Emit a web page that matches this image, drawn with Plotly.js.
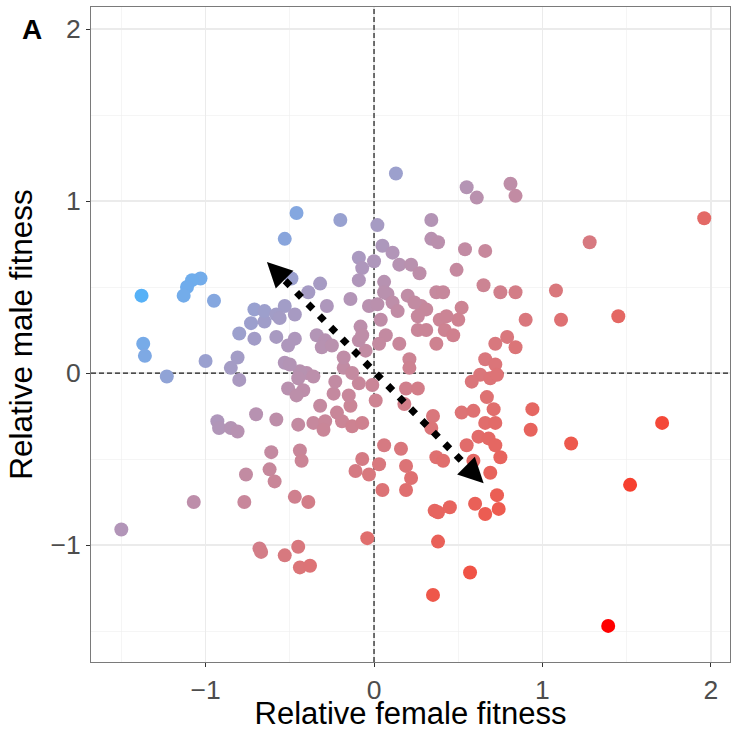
<!DOCTYPE html>
<html>
<head>
<meta charset="utf-8">
<script src="https://cdn.plot.ly/plotly-3.0.1.min.js"></script>
<style>
html,body{margin:0;padding:0;background:#fff;}
#chart{width:731px;height:731px;}
</style>
</head>
<body>
<div id="chart"></div>
<script>
// Relative female fitness (x) and relative male fitness (y), one pair per point
const femaleFitness = [
 0.13,0.55,0.61,0.81,0.84,-0.46,-0.20,0.02,0.34,0.34,0.38,-0.53,1.96,1.28,0.54,0.66,0.05,0.11,-0.09,0.00,
 -0.07,0.15,0.22,0.27,0.49,-0.09,-0.49,-1.03,-1.08,-1.11,-1.13,-1.38,-0.95,-0.32,-0.39,-0.14,-0.28,-0.03,0.02,0.08,
 0.20,0.28,0.06,0.06,0.11,0.14,0.04,0.24,0.37,0.41,0.31,0.26,0.39,0.52,0.50,0.43,0.26,0.31,0.42,0.47,
 0.37,0.15,0.07,0.03,0.65,0.75,0.84,1.08,0.90,1.11,1.45,0.79,0.72,0.84,0.66,0.72,0.63,0.69,0.73,0.58,
 0.67,0.52,0.59,0.71,0.94,0.66,0.72,0.93,0.62,0.68,0.72,1.17,1.71,1.52,1.39,0.55,0.75,0.69,0.59,0.73,
 0.60,0.66,0.74,0.36,0.38,0.45,-0.04,0.38,0.35,0.57,0.06,0.16,0.37,0.41,-0.07,-0.11,-0.03,0.03,0.19,0.22,
 0.19,0.05,-0.44,-0.61,-0.43,-0.76,-0.62,-0.59,-0.47,-0.39,-0.77,-1.07,-1.50,-0.68,-0.67,-0.53,-0.45,-0.44,-0.38,-0.70,
 -0.58,-0.45,-0.93,-0.92,-0.85,-0.81,-0.36,-0.29,-0.30,-0.19,-0.13,-0.07,-0.32,-0.22,-0.14,-0.24,-0.15,0.01,-0.23,-0.09,
 -0.01,-0.18,-0.13,-0.40,-0.36,-0.44,-0.45,-0.51,-0.42,-0.46,-0.53,-0.50,-0.81,-0.85,-0.80,-1.00,-1.23,-1.37,-1.36,-0.18,
 -0.05,-0.09,-0.08,-0.07,-0.34,-0.29,-0.31,-0.25,-0.47,-0.51,-0.58,-0.71,-0.80,-0.73,-0.65,-0.71,-0.65,-0.53,-0.58,-0.56,
 -0.47,0.21,0.21,0.19,0.26,0.18,0.35,0.34
];
const maleFitness = [
 1.16,1.08,1.02,1.10,1.03,0.93,0.89,0.86,0.89,0.78,0.76,0.78,0.90,0.76,0.72,0.71,0.74,0.70,0.67,0.65,
 0.61,0.63,0.63,0.58,0.60,0.54,0.55,0.55,0.54,0.50,0.45,0.45,0.42,0.52,0.47,0.43,0.39,0.39,0.40,0.46,
 0.45,0.39,0.53,0.47,0.41,0.36,0.31,0.41,0.47,0.47,0.37,0.33,0.31,0.38,0.31,0.33,0.25,0.25,0.25,0.22,
 0.17,0.17,0.22,0.17,0.51,0.47,0.47,0.48,0.31,0.31,0.33,0.21,0.17,0.15,0.08,0.05,-0.01,-0.03,-0.01,-0.05,
 -0.14,-0.23,-0.22,-0.21,-0.21,-0.29,-0.29,-0.33,-0.37,-0.38,-0.42,-0.41,-0.29,-0.65,-1.47,-0.42,-0.49,-0.58,-0.51,-0.71,
 -0.76,-0.82,-0.79,-0.80,-0.81,-0.78,-0.96,-0.98,-1.29,-1.16,-0.42,-0.44,-0.49,-0.51,-0.50,-0.57,-0.59,-0.53,-0.54,-0.61,
 -0.68,-0.68,-0.45,-0.46,-0.51,-0.59,-0.56,-0.63,-0.72,-0.75,-0.75,-0.75,-0.91,-1.02,-1.04,-1.06,-1.01,-1.13,-1.12,-0.24,
 -0.27,-0.30,-0.28,-0.32,-0.32,-0.34,-0.29,-0.28,-0.33,-0.28,-0.31,-0.29,-0.19,-0.23,-0.19,-0.12,-0.13,-0.16,-0.05,-0.06,
 -0.07,0.03,0.00,0.00,-0.02,0.01,-0.03,-0.09,-0.10,-0.13,0.06,0.05,0.09,0.03,-0.04,0.07,-0.02,0.17,0.10,0.09,
 0.13,0.19,0.27,0.22,0.22,0.19,0.15,0.16,0.20,0.16,0.21,0.20,0.23,0.29,0.30,0.37,0.36,0.39,0.34,0.32,
 0.34,0.08,0.03,-0.09,-0.09,-0.18,-0.25,-0.32
];
// Arrow tips (principal direction), in data units
const arrowTipUp = [-0.64, 0.65];
const arrowTipDown = [0.655, -0.645];
// Axis ranges, ticks and titles
const xRange = [-1.68, 2.113];
const yRange = [-1.68, 2.128];
const xTicks = [-1, 0, 1, 2];
const yTicks = [-1, 0, 1, 2];
const xTitle = 'Relative female fitness';
const yTitle = 'Relative male fitness';
const panelLabel = 'A';
const lowColour = '#56B1F7';
const highColour = '#FF0000';

// colour value: position along the antagonistic axis (female minus male)
const colourValue = femaleFitness.map((v, i) => v - maleFitness[i]);

// --- CIELAB interpolation, like ggplot's gradient ---
function hex2rgb(h){h=h.replace('#','');return [0,2,4].map(i=>parseInt(h.substr(i,2),16)/255);}
function lin(c){return c<=0.04045?c/12.92:Math.pow((c+0.055)/1.055,2.4);}
function delin(c){c=c<=0.0031308?12.92*c:1.055*Math.pow(c,1/2.4)-0.055;return Math.min(1,Math.max(0,c));}
const Wn=[0.95047,1,1.08883];
function rgb2lab(rgb){
  const [r,g,b]=rgb.map(lin);
  const X=0.4124564*r+0.3575761*g+0.1804375*b;
  const Y=0.2126729*r+0.7151522*g+0.0721750*b;
  const Z=0.0193339*r+0.1191920*g+0.9503041*b;
  const f=t=>t>0.008856?Math.cbrt(t):7.787*t+16/116;
  const fx=f(X/Wn[0]),fy=f(Y/Wn[1]),fz=f(Z/Wn[2]);
  return [116*fy-16,500*(fx-fy),200*(fy-fz)];
}
function lab2hex(lab){
  const fy=(lab[0]+16)/116,fx=fy+lab[1]/500,fz=fy-lab[2]/200;
  const fi=t=>{const t3=t*t*t;return t3>0.008856?t3:(t-16/116)/7.787;};
  const X=fi(fx)*Wn[0],Y=fi(fy)*Wn[1],Z=fi(fz)*Wn[2];
  const r=3.2404542*X-1.5371385*Y-0.4985314*Z;
  const g=-0.9692660*X+1.8760108*Y+0.0415560*Z;
  const b=0.0556434*X-0.2040259*Y+1.0572252*Z;
  return '#'+[r,g,b].map(v=>Math.round(delin(v)*255).toString(16).padStart(2,'0')).join('');
}
const labLo=rgb2lab(hex2rgb(lowColour)), labHi=rgb2lab(hex2rgb(highColour));
const colorscale=[];
for(let i=0;i<=24;i++){
  const t=i/24;
  colorscale.push([t, lab2hex(labLo.map((v,k)=>v+(labHi[k]-v)*t))]);
}

const zeroLineStyle = {color:'#1a1a1a', width:1.2, dash:'5px,3px'};
const vZero = {type:'scatter', mode:'lines', x:[0,0], y:yRange, line:zeroLineStyle,
  hoverinfo:'skip', showlegend:false, cliponaxis:true};
const hZero = {type:'scatter', mode:'lines', x:xRange, y:[0,0], line:zeroLineStyle,
  hoverinfo:'skip', showlegend:false, cliponaxis:true};

const points = {
  type:'scatter', mode:'markers',
  x: femaleFitness, y: maleFitness,
  marker:{size:14, color: colourValue, colorscale: colorscale,
    cmin: Math.min(...colourValue), cmax: Math.max(...colourValue),
    showscale:false, line:{width:0}},
  hoverinfo:'x+y', showlegend:false
};
// dotted shaft stops just inside the two arrowheads
const shaftFrac = 0.93;
const arrowLine = {
  type:'scatter', mode:'lines',
  x:[arrowTipUp[0]*shaftFrac, arrowTipDown[0]*shaftFrac],
  y:[arrowTipUp[1]*shaftFrac, arrowTipDown[1]*shaftFrac],
  line:{color:'#000', width:7, dash:'7px,9.3px'},
  hoverinfo:'skip', showlegend:false
};

const FONT = 'Liberation Sans, Arial, sans-serif';
const axisCommon = {
  showline:true, mirror:true, linecolor:'#7a7a7a', linewidth:1,
  ticks:'outside', ticklen:4, tickwidth:1, tickcolor:'#333333',
  showgrid:true, gridcolor:'#EBEBEB', gridwidth:1.1,
  minor:{dtick:0.5, showgrid:true, gridcolor:'#EFEFEF', gridwidth:0.6},
  zeroline:false,
  tickfont:{family:FONT, size:26.5, color:'#4D4D4D'}
};

const layout = {
  width:731, height:731,
  margin:{l:91, r:1, t:7, b:69},
  paper_bgcolor:'#fff', plot_bgcolor:'#fff',
  font:{family:FONT},
  xaxis: Object.assign({}, axisCommon, {
    range:xRange, tickvals:xTicks, ticktext:xTicks.map(v=>v<0?'\u2212'+Math.abs(v):String(v)),
    title:{text:xTitle, font:{size:31, color:'#000'}}
  }),
  yaxis: Object.assign({}, axisCommon, {
    range:yRange, tickvals:yTicks, ticktext:yTicks.map(v=>v<0?'\u2212'+Math.abs(v):String(v)),
    title:{text:yTitle, font:{size:31.5, color:'#000'}, standoff:8}
  }),
  annotations:[
    {xref:'x', yref:'y', x:arrowTipUp[0], y:arrowTipUp[1], ax:11, ay:11, text:'',
      showarrow:true, arrowhead:2, arrowsize:2.5, arrowwidth:2, arrowcolor:'#000', standoff:1},
    {xref:'x', yref:'y', x:arrowTipDown[0], y:arrowTipDown[1], ax:-11, ay:-11, text:'',
      showarrow:true, arrowhead:2, arrowsize:2.5, arrowwidth:2, arrowcolor:'#000', standoff:1},
    {xref:'paper', yref:'paper', x:-0.092, y:0.965, text:'<b>'+panelLabel+'</b>', showarrow:false,
      xanchor:'center', yanchor:'middle', font:{size:28, color:'#000', family:FONT}}
  ]
};

Plotly.newPlot('chart', [vZero, hZero, points, arrowLine], layout, {displayModeBar:false, staticPlot:true});
</script>
</body>
</html>
